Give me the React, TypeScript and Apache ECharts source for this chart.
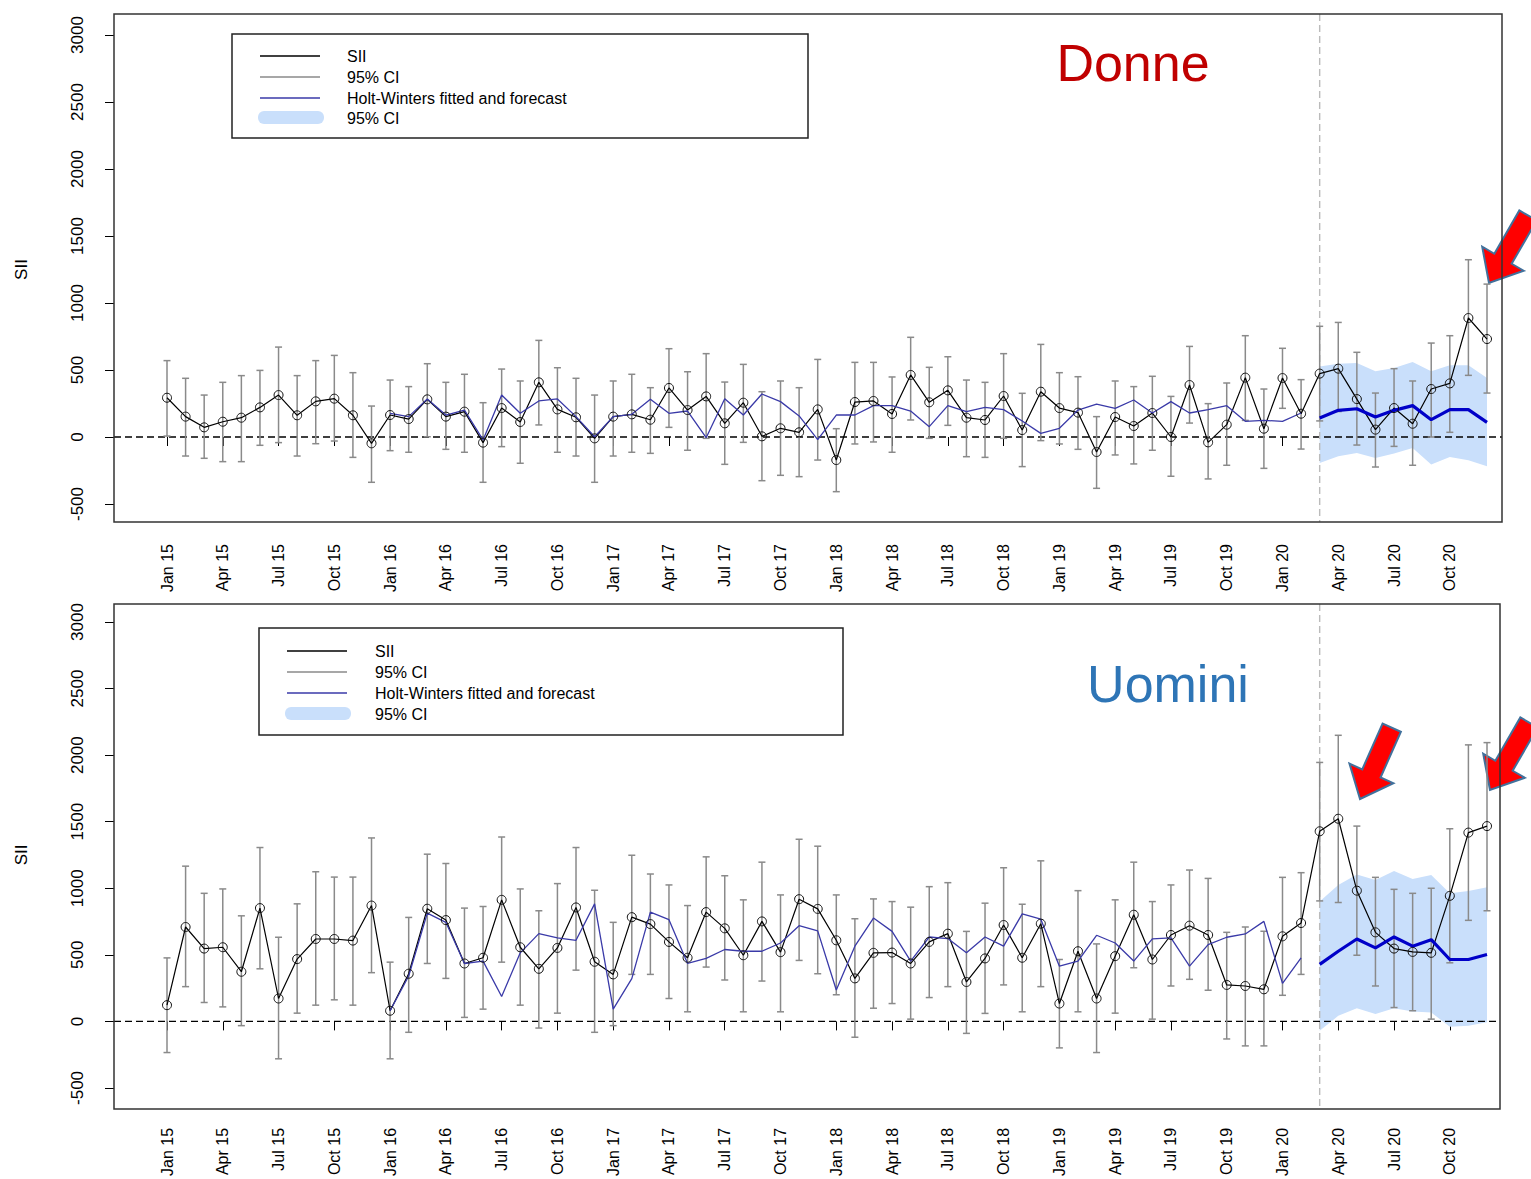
import { useEffect, useRef } from "react";
import * as echarts from "echarts";

// ---------- categories ----------
const MONTH_NAMES = ["Jan", "Feb", "Mar", "Apr", "May", "Jun", "Jul", "Aug", "Sep", "Oct", "Nov", "Dec"];
const YEARS = ["15", "16", "17", "18", "19", "20"];
const categories = YEARS.flatMap((y) => MONTH_NAMES.map((m) => `${m} ${y}`));

const FIT_START = 12; // Jan 16
const FC_START = 62; // Mar 20

// ---------- Donne ----------
const donneSII = [
  293, 152, 72, 114, 144, 221, 313, 162, 266, 286, 162, -47,
  164, 134, 281, 152, 189, -42, 216, 112, 408, 206, 147, -10,
  152, 169, 129, 366, 201, 303, 102, 256, 5, 65, 35, 206,
  -172, 261, 269, 172, 463, 259, 348, 144, 127, 306, 52, 338,
  216, 182, -112, 149, 82, 179, 0, 388, -40, 92, 443, 62,
  440, 174, 473, 510, 283, 55, 216, 99, 358, 400, 888, 731,
];
const donneLo = [
  7, -142, -159, -184, -184, -62, -42, -142, -50, -30, -152, -338,
  -102, -114, 2, -92, -114, -338, -72, -196, 90, -114, -142, -338,
  -142, -114, -122, 72, -99, -10, -204, -40, -326, -286, -296, -172,
  -408, -52, -37, -114, 127, -10, 87, -147, -152, -10, -221, -27,
  -52, -92, -383, -134, -201, -99, -293, 104, -313, -211, 124, -234,
  214, -90, 120, 190, -60, -224, -70, -211, 0, 35, 460, 328,
];
const donneHi = [
  570, 438, 313, 408, 458, 497, 671, 458, 570, 609, 480, 231,
  425, 376, 547, 408, 468, 256, 507, 418, 721, 517, 438, 313,
  418, 468, 368, 659, 487, 622, 410, 542, 338, 418, 368, 579,
  62, 557, 557, 448, 744, 520, 599, 425, 408, 622, 326, 691,
  480, 450, 152, 418, 376, 453, 303, 676, 249, 403, 756, 358,
  662, 428, 826, 855, 632, 328, 510, 418, 701, 756, 1323, 1141,
];
const donneFitted = [
  177, 152, 284, 164, 201, -22, 313, 177, 269, 284, 152, 2,
  152, 169, 281, 177, 194, -5, 286, 164, 321, 264, 157, -20,
  164, 164, 234, 234, 194, 77, 234, 189, 221, 204, 119, 27,
  65, 201, 246, 214, 276, 179, 264, 179, 204, 234, 117, 124,
  117, 179,
];
const donneForecast = [142, 199, 211, 149, 199, 234, 129, 204, 204, 109];
const donneBandHi = [527, 547, 552, 490, 515, 560, 490, 535, 535, 440];
const donneBandLo = [-194, -144, -119, -157, -124, -82, -206, -149, -174, -219];

// ---------- Uomini ----------
const uominiSII = [
  122, 709, 547, 557, 373, 851, 172, 468, 619, 619, 607, 870,
  80, 358, 846, 761, 435, 478, 913, 557, 395, 552, 856, 448,
  353, 783, 731, 597, 478, 821, 699, 497, 751, 520, 918, 845,
  609, 323, 515, 517, 435, 597, 659, 296, 473, 724, 478, 734,
  134, 527, 172, 490, 801, 465, 649, 719, 649, 274, 266, 241,
  639, 739, 1428, 1522, 982, 669, 547, 522, 515, 943, 1418, 1467,
];
const uominiLo = [
  -234, 261, 142, 109, -32, 395, -281, 62, 122, 162, 122, 366,
  -281, -82, 435, 323, 30, 92, 445, 122, -50, 62, 385, -82,
  -32, 353, 353, 172, 72, 408, 311, 72, 303, 72, 458, 358,
  200, -119, 99, 134, 17, 179, 261, -90, 60, 274, 72, 261,
  -199, 72, -234, 62, 403, 17, 266, 316, 234, -132, -184, -184,
  196, 353, 905, 893, 497, 266, 104, 80, 17, 440, 759, 831,
];
const uominiHi = [
  477, 1166, 962, 995, 793, 1306, 632, 883, 1124, 1084, 1084, 1378,
  445, 781, 1256, 1186, 851, 863, 1385, 995, 831, 1035, 1306, 985,
  744, 1248, 1107, 1025, 870, 1236, 1094, 913, 1196, 950, 1368, 1316,
  950, 771, 920, 900, 858, 1012, 1042, 676, 888, 1154, 880, 1206,
  465, 982, 582, 913, 1196, 900, 1025, 1137, 1074, 669, 709, 677,
  1082, 1117, 1945, 2149, 1467, 1082, 992, 962, 1000, 1447, 2077, 2094,
];
const uominiFitted = [
  80, 341, 813, 744, 435, 453, 187, 515, 659, 627, 609, 883,
  92, 321, 821, 764, 435, 473, 540, 527, 527, 589, 719, 680,
  236, 565, 776, 676, 453, 634, 622, 515, 634, 565, 808, 768,
  415, 453, 647, 589, 453, 620, 627, 415, 577, 632, 657, 751,
  286, 478,
];
const uominiForecast = [428, 527, 619, 552, 634, 565, 614, 465, 465, 502];
const uominiBandHi = [900, 1025, 1104, 1062, 1129, 1069, 1099, 962, 980, 1007];
const uominiBandLo = [-70, 42, 99, 55, 99, 75, 67, -40, -32, -7];

const Y_TICKS = { min: -500, max: 3000, step: 500 };
const LEGEND_LABELS = ["SII", "95% CI", "Holt-Winters fitted and forecast", "95% CI"];

const FONT = "'Liberation Sans', Arial, sans-serif";

type PanelData = {
  title: string;
  titleColor: string;
  sii: number[];
  lo: number[];
  hi: number[];
  fitted: number[];
  forecast: number[];
  bandLo: number[];
  bandHi: number[];
};

type Layout = {
  box: { x: number; y: number; w: number; h: number };
  gridTop: number;
  gridBottom: number;
  legend: { x: number; y: number; w: number; h: number; lineX: number; textX: number; rows: number[] };
  titlePos: [number, number];
};

const panels: { d: PanelData; l: Layout }[] = [
  {
    d: {
      title: "Donne",
      titleColor: "#C00000",
      sii: donneSII,
      lo: donneLo,
      hi: donneHi,
      fitted: donneFitted,
      forecast: donneForecast,
      bandLo: donneBandLo,
      bandHi: donneBandHi,
    },
    l: {
      box: { x: 114, y: 14, w: 1388, h: 508 },
      gridTop: 35,
      gridBottom: 675,
      legend: { x: 232, y: 34, w: 576, h: 104, lineX: 260, textX: 347, rows: [56, 77, 98, 118] },
      titlePos: [1133, 63],
    },
  },
  {
    d: {
      title: "Uomini",
      titleColor: "#2E75B6",
      sii: uominiSII,
      lo: uominiLo,
      hi: uominiHi,
      fitted: uominiFitted,
      forecast: uominiForecast,
      bandLo: uominiBandLo,
      bandHi: uominiBandHi,
    },
    l: {
      box: { x: 114, y: 604, w: 1386, h: 505 },
      gridTop: 622,
      gridBottom: 88,
      legend: { x: 259, y: 628, w: 584, h: 107, lineX: 287, textX: 375, rows: [651, 672, 693, 714] },
      titlePos: [1168, 684],
    },
  },
];

const BAND_COLOR = "#C9DFFB";
const FIT_COLOR = "#3A3AA8";
const FC_COLOR = "#0000C8";
const CI_COLOR = "#8A8A8A";

function arrow(tipX: number, tipY: number, angleDeg: number) {
  const pts = [
    [0, 0],
    [-24, -28],
    [-10, -28],
    [-10, -78],
    [10, -78],
    [10, -28],
    [24, -28],
  ];
  return {
    type: "group",
    x: tipX,
    y: tipY,
    rotation: (-angleDeg * Math.PI) / 180,
    z: 200,
    children: [
      {
        type: "polygon",
        shape: { points: pts },
        style: { fill: "#FF0000", stroke: "#41719C", lineWidth: 2 },
      },
    ],
  };
}

export default function App() {
  const ref = useRef<HTMLDivElement>(null);

  useEffect(() => {
    if (!ref.current) return;
    const chart = echarts.init(ref.current, undefined, { renderer: "svg" });

    const grid: any[] = [];
    const xAxis: any[] = [];
    const yAxis: any[] = [];
    const series: any[] = [];
    const graphic: any[] = [];

    panels.forEach(({ d, l }, k) => {
      const box = l.box;
      grid.push({ left: 167, right: 44, top: l.gridTop, bottom: l.gridBottom });
      xAxis.push({
        type: "category",
        gridIndex: k,
        data: categories,
        boundaryGap: false,
        offset: box.y + box.h - (1179 - l.gridBottom),
        axisLine: { show: false },
        axisTick: { show: true, interval: 2, length: 9, lineStyle: { color: "#000", width: 1 } },
        axisLabel: {
          interval: 2,
          rotate: 90,
          margin: 22,
          fontSize: 16,
          color: "#000",
          fontFamily: FONT,
        },
        splitLine: { show: false },
      });
      yAxis.push({
        type: "value",
        gridIndex: k,
        min: Y_TICKS.min,
        max: Y_TICKS.max,
        interval: Y_TICKS.step,
        offset: 167 - box.x,
        name: "SII",
        nameLocation: "middle",
        nameRotate: 90,
        nameGap: 84,
        nameTextStyle: { fontSize: 17, color: "#000", fontFamily: FONT },
        axisLine: { show: false },
        axisTick: { show: true, length: 9, lineStyle: { color: "#000", width: 1 } },
        axisLabel: {
          rotate: 90,
          margin: 28,
          fontSize: 17,
          color: "#000",
          fontFamily: FONT,
          formatter: (v: number) => String(v),
        },
        splitLine: { show: false },
      });

      // forecast confidence band
      series.push({
        type: "custom",
        xAxisIndex: k,
        yAxisIndex: k,
        silent: true,
        data: d.bandLo.map((lo, j) => [FC_START + j, lo, d.bandHi[j]]),
        encode: { x: 0, y: [1, 2] },
        renderItem: (params: any, api: any) => {
          if (params.dataIndex !== 0) return { type: "group", children: [] };
          const upper = d.bandHi.map((v, j) => api.coord([FC_START + j, v]));
          const lower = d.bandLo.map((v, j) => api.coord([FC_START + j, v])).reverse();
          return {
            type: "polygon",
            shape: { points: [...upper, ...lower] },
            style: { fill: BAND_COLOR },
          };
        },
      });

      // reference lines: zero and forecast start
      series.push({
        type: "custom",
        xAxisIndex: k,
        yAxisIndex: k,
        silent: true,
        data: [[FC_START, 0]],
        renderItem: (_p: any, api: any) => {
          const c = api.coord([FC_START, 0]);
          return {
            type: "group",
            children: [
              {
                type: "line",
                shape: { x1: box.x, y1: c[1], x2: box.x + box.w, y2: c[1] },
                style: { stroke: "#000", lineWidth: 1.4, lineDash: [7, 4] },
              },
              {
                type: "line",
                shape: { x1: c[0], y1: box.y, x2: c[0], y2: box.y + box.h },
                style: { stroke: "#BBBBBB", lineWidth: 1.4, lineDash: [7, 4] },
              },
            ],
          };
        },
      });

      // 95% CI error bars
      series.push({
        type: "custom",
        xAxisIndex: k,
        yAxisIndex: k,
        silent: true,
        data: d.sii.map((_v, i) => [i, d.lo[i], d.hi[i]]),
        encode: { x: 0, y: [1, 2] },
        renderItem: (params: any, api: any) => {
          const i = params.dataIndex;
          const a = api.coord([i, d.lo[i]]);
          const b = api.coord([i, d.hi[i]]);
          const w = 3.5;
          const st = { stroke: CI_COLOR, lineWidth: 1.5 };
          return {
            type: "group",
            children: [
              { type: "line", shape: { x1: a[0], y1: a[1], x2: b[0], y2: b[1] }, style: st },
              { type: "line", shape: { x1: a[0] - w, y1: a[1], x2: a[0] + w, y2: a[1] }, style: st },
              { type: "line", shape: { x1: b[0] - w, y1: b[1], x2: b[0] + w, y2: b[1] }, style: st },
            ],
          };
        },
      });

      // SII observed
      series.push({
        type: "line",
        xAxisIndex: k,
        yAxisIndex: k,
        silent: true,
        data: d.sii,
        symbol: "circle",
        symbolSize: 9,
        showAllSymbol: true,
        lineStyle: { color: "#000", width: 1.2 },
        itemStyle: { color: "rgba(255,255,255,0)", borderColor: "#111", borderWidth: 1 },
      });

      // Holt-Winters fitted
      series.push({
        type: "line",
        xAxisIndex: k,
        yAxisIndex: k,
        silent: true,
        data: [...Array(FIT_START).fill("-"), ...d.fitted],
        symbol: "none",
        lineStyle: { color: FIT_COLOR, width: 1.3 },
      });

      // Holt-Winters forecast
      series.push({
        type: "line",
        xAxisIndex: k,
        yAxisIndex: k,
        silent: true,
        data: [...Array(FC_START).fill("-"), ...d.forecast],
        symbol: "none",
        lineStyle: { color: FC_COLOR, width: 3.2 },
      });

      // plot box
      graphic.push({
        type: "rect",
        shape: { x: box.x, y: box.y, width: box.w, height: box.h },
        style: { fill: "none", stroke: "#333", lineWidth: 1.5 },
        silent: true,
        z: 100,
      });

      // legend
      const lg = l.legend;
      const legendChildren: any[] = [
        {
          type: "rect",
          shape: { x: lg.x, y: lg.y, width: lg.w, height: lg.h },
          style: { fill: "#fff", stroke: "#222", lineWidth: 1.5 },
        },
      ];
      const lineColors = ["#000", "#8A8A8A", FIT_COLOR];
      lineColors.forEach((c, r) => {
        legendChildren.push({
          type: "line",
          shape: { x1: lg.lineX, y1: lg.rows[r], x2: lg.lineX + 60, y2: lg.rows[r] },
          style: { stroke: c, lineWidth: 1.5 },
        });
      });
      legendChildren.push({
        type: "rect",
        shape: { x: lg.lineX - 2, y: lg.rows[3] - 7, width: 66, height: 13, r: 6 },
        style: { fill: BAND_COLOR },
      });
      LEGEND_LABELS.forEach((t, r) => {
        legendChildren.push({
          type: "text",
          style: {
            x: lg.textX,
            y: lg.rows[r],
            text: t,
            fill: "#000",
            fontSize: 16,
            fontFamily: FONT,
            textVerticalAlign: "middle",
            verticalAlign: "middle",
          },
        });
      });
      graphic.push({ type: "group", z: 110, silent: true, children: legendChildren });

      // panel title
      graphic.push({
        type: "text",
        z: 110,
        silent: true,
        style: {
          x: l.titlePos[0],
          y: l.titlePos[1],
          text: d.title,
          fill: d.titleColor,
          fontSize: 52,
          fontFamily: FONT,
          align: "center",
          textAlign: "center",
          verticalAlign: "middle",
          textVerticalAlign: "middle",
        },
      });
    });

    graphic.push(arrow(1489, 283, 30));
    graphic.push(arrow(1360, 799, 24));
    graphic.push(arrow(1490, 790, 30));

    chart.setOption({
      animation: false,
      backgroundColor: "#fff",
      textStyle: { fontFamily: FONT },
      grid,
      xAxis,
      yAxis,
      series,
      graphic,
    });

    return () => chart.dispose();
  }, []);

  return (
    <div
      ref={ref}
      style={{ position: "fixed", left: 0, top: 0, width: 1531, height: 1179, background: "#fff" }}
    />
  );
}
